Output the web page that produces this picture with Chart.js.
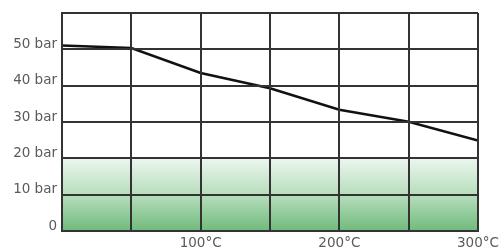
<!DOCTYPE html>
<html>
<head>
<meta charset="utf-8">
<script src="https://cdn.jsdelivr.net/npm/chart.js@4/dist/chart.umd.min.js"></script>
<style>
  html, body { margin: 0; padding: 0; background: #fff; }
  #wrap { width: 504px; height: 251px; }
</style>
</head>
<body>
<div id="wrap"><canvas id="chart"></canvas></div>
<script>
// temperature in °C, pressure in bar
let temps = [0, 50, 100, 150, 200, 250, 300];
let pressure = [51.1, 50.4, 43.5, 39.3, 33.4, 30.1, 24.9];
let safeZone = [20, 20, 20, 20, 20, 20, 20];
let xTickLabels = {100: '100°C', 200: '200°C', 300: '300°C'};
let yTickLabels = {0: '0', 10: '10 bar', 20: '20 bar', 30: '30 bar', 40: '40 bar', 50: '50 bar', 60: ''};

function toPoints(values) {
    return temps.map(function(t, i) { return {x: t, y: values[i]}; });
}

function greenFill(context) {
    let chart = context.chart;
    let area = chart.chartArea;
    if (!area) return 'rgba(140,200,150,0.6)';
    let y = chart.scales.y;
    let g = chart.ctx.createLinearGradient(0, y.getPixelForValue(20), 0, y.getPixelForValue(0));
    g.addColorStop(0, 'rgb(236,246,238)');
    g.addColorStop(0.5, 'rgb(182,222,188)');
    g.addColorStop(1, 'rgb(112,186,124)');
    return g;
}

Chart.defaults.font.family = '"DejaVu Sans", sans-serif';
Chart.defaults.font.size = 13.5;
Chart.defaults.color = '#5a5a5a';

new Chart(document.getElementById('chart'), {
    type: 'line',
    data: {
        datasets: [{
            label: 'Pressure',
            data: toPoints(pressure),
            borderColor: '#111',
            borderWidth: 2.5,
            pointRadius: 0,
            fill: false,
            tension: 0
        }, {
            label: 'Zone',
            data: toPoints(safeZone),
            borderWidth: 0,
            pointRadius: 0,
            backgroundColor: greenFill,
            fill: 'origin'
        }]
    },
    options: {
        responsive: true,
        maintainAspectRatio: false,
        animation: false,
        layout: { padding: { top: 12, right: 26, left: 0, bottom: 0 } },
        plugins: { legend: { display: false }, tooltip: { enabled: false } },
        scales: {
            x: {
                type: 'linear',
                min: 0,
                max: 300,
                grid: { color: '#333', lineWidth: 2, drawTicks: false, z: 1 },
                border: { color: '#333', width: 2, z: 1 },
                ticks: {
                    stepSize: 50,
                    padding: 4,
                    maxRotation: 0,
                    autoSkip: false,
                    callback: function(v) { return xTickLabels[v] || ''; }
                },
                afterFit: function(scale) { scale.height = 20; }
            },
            y: {
                min: 0,
                max: 60,
                grid: { color: '#333', lineWidth: 2, drawTicks: false, z: 1 },
                border: { color: '#333', width: 2, z: 1 },
                ticks: {
                    stepSize: 10,
                    padding: 5,
                    labelOffset: -5,
                    callback: function(v) { return yTickLabels[v]; }
                },
                afterFit: function(scale) { scale.width = 62; }
            }
        }
    }
});
</script>
</body>
</html>
